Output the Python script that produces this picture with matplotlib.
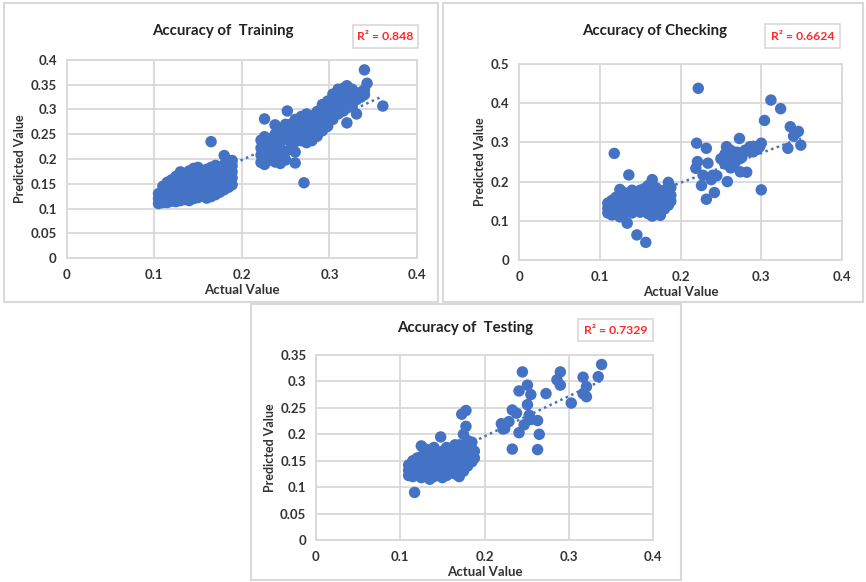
import matplotlib.pyplot as plt
import numpy as np
from matplotlib.patches import Rectangle
from matplotlib.ticker import FuncFormatter, MultipleLocator

plt.rcParams['font.family'] = ['Lato', 'DejaVu Sans']

# (actual, [predicted, ...]) grouped by actual value
training = [
    (0.105, [0.110, 0.120, 0.130]),
    (0.110, [0.112, 0.124, 0.135, 0.145]),
    (0.115, [0.112, 0.123, 0.133, 0.143, 0.153]),
    (0.120, [0.115, 0.128, 0.138, 0.148, 0.158]),
    (0.125, [0.114, 0.125, 0.135, 0.145, 0.155, 0.165]),
    (0.130, [0.116, 0.130, 0.142, 0.152, 0.162, 0.174]),
    (0.135, [0.118, 0.132, 0.144, 0.156, 0.167]),
    (0.140, [0.116, 0.128, 0.140, 0.152, 0.164, 0.176]),
    (0.145, [0.120, 0.134, 0.146, 0.158, 0.170, 0.181]),
    (0.150, [0.122, 0.137, 0.149, 0.161, 0.173, 0.183]),
    (0.155, [0.126, 0.140, 0.152, 0.164, 0.177]),
    (0.160, [0.121, 0.132, 0.144, 0.156, 0.168, 0.179]),
    (0.165, [0.124, 0.137, 0.149, 0.161, 0.173, 0.183, 0.235]),
    (0.170, [0.128, 0.142, 0.154, 0.166, 0.178, 0.187]),
    (0.175, [0.133, 0.147, 0.159, 0.171, 0.184]),
    (0.180, [0.138, 0.152, 0.164, 0.176, 0.189, 0.207]),
    (0.185, [0.143, 0.157, 0.169, 0.181, 0.194]),
    (0.189, [0.148, 0.162, 0.174, 0.186, 0.197]),
    (0.222, [0.193, 0.208, 0.222, 0.238]),
    (0.226, [0.189, 0.215, 0.245, 0.281]),
    (0.232, [0.198, 0.212, 0.225, 0.240]),
    (0.238, [0.194, 0.210, 0.225, 0.250, 0.269]),
    (0.244, [0.191, 0.205, 0.220, 0.235, 0.255]),
    (0.250, [0.198, 0.215, 0.240, 0.255, 0.270]),
    (0.252, [0.297]),
    (0.256, [0.223, 0.240, 0.255, 0.270]),
    (0.261, [0.192, 0.214, 0.235, 0.250, 0.265, 0.280]),
    (0.268, [0.237, 0.255, 0.270, 0.286]),
    (0.271, [0.152]),
    (0.274, [0.233, 0.250, 0.265, 0.280, 0.291]),
    (0.280, [0.237, 0.255, 0.270, 0.287]),
    (0.286, [0.246, 0.265, 0.280, 0.296]),
    (0.292, [0.257, 0.275, 0.290, 0.310]),
    (0.298, [0.266, 0.285, 0.300, 0.317]),
    (0.304, [0.280, 0.300, 0.315, 0.331]),
    (0.310, [0.291, 0.310, 0.325, 0.341]),
    (0.316, [0.297, 0.315, 0.330, 0.343]),
    (0.320, [0.273, 0.303, 0.320, 0.335, 0.348]),
    (0.326, [0.308, 0.325, 0.341]),
    (0.331, [0.291, 0.320]),
    (0.336, [0.325, 0.335]),
    (0.340, [0.330, 0.340, 0.380]),
    (0.343, [0.353]),
    (0.361, [0.307]),
]

checking = [
    (0.110, [0.120, 0.132, 0.145]),
    (0.115, [0.115, 0.128, 0.140, 0.152]),
    (0.118, [0.272]),
    (0.120, [0.122, 0.135, 0.148, 0.160]),
    (0.125, [0.110, 0.125, 0.140, 0.155, 0.168, 0.180]),
    (0.130, [0.118, 0.132, 0.146, 0.160, 0.172]),
    (0.134, [0.094]),
    (0.135, [0.125, 0.140, 0.155, 0.168]),
    (0.136, [0.217]),
    (0.140, [0.120, 0.135, 0.150, 0.165, 0.178]),
    (0.145, [0.128, 0.142, 0.156, 0.170]),
    (0.146, [0.064]),
    (0.150, [0.122, 0.136, 0.150, 0.164, 0.178]),
    (0.155, [0.125, 0.140, 0.155, 0.170, 0.182]),
    (0.157, [0.045]),
    (0.160, [0.118, 0.132, 0.146, 0.160, 0.175, 0.190]),
    (0.165, [0.112, 0.128, 0.144, 0.160, 0.176, 0.205]),
    (0.170, [0.120, 0.136, 0.152, 0.168, 0.184]),
    (0.175, [0.114, 0.128, 0.144, 0.160, 0.176]),
    (0.180, [0.130, 0.146, 0.162, 0.178]),
    (0.185, [0.140, 0.155, 0.170, 0.198]),
    (0.188, [0.150, 0.165, 0.185]),
    (0.219, [0.234]),
    (0.220, [0.298]),
    (0.221, [0.251]),
    (0.222, [0.438]),
    (0.226, [0.190]),
    (0.228, [0.216]),
    (0.232, [0.155, 0.285]),
    (0.234, [0.247]),
    (0.238, [0.205]),
    (0.240, [0.216]),
    (0.242, [0.172]),
    (0.245, [0.215]),
    (0.250, [0.258]),
    (0.255, [0.245, 0.270]),
    (0.257, [0.289]),
    (0.258, [0.200]),
    (0.260, [0.255]),
    (0.262, [0.235, 0.280]),
    (0.265, [0.245, 0.265]),
    (0.268, [0.250]),
    (0.270, [0.275]),
    (0.273, [0.310]),
    (0.274, [0.225, 0.259]),
    (0.276, [0.262]),
    (0.280, [0.280]),
    (0.282, [0.224]),
    (0.285, [0.278]),
    (0.286, [0.289]),
    (0.290, [0.276, 0.290]),
    (0.295, [0.282]),
    (0.298, [0.289]),
    (0.300, [0.179, 0.298]),
    (0.304, [0.356]),
    (0.312, [0.408]),
    (0.324, [0.386]),
    (0.333, [0.285]),
    (0.336, [0.340]),
    (0.340, [0.316]),
    (0.346, [0.328]),
    (0.349, [0.293]),
]

testing = [
    (0.110, [0.122, 0.132, 0.142]),
    (0.115, [0.120, 0.130, 0.140, 0.150]),
    (0.117, [0.090]),
    (0.120, [0.125, 0.135, 0.145, 0.155]),
    (0.125, [0.118, 0.128, 0.138, 0.148, 0.158, 0.178]),
    (0.130, [0.122, 0.132, 0.142, 0.152, 0.162, 0.172]),
    (0.135, [0.115, 0.125, 0.135, 0.145, 0.155, 0.168]),
    (0.140, [0.120, 0.130, 0.140, 0.150, 0.160, 0.175]),
    (0.145, [0.125, 0.135, 0.145, 0.155, 0.165]),
    (0.148, [0.195]),
    (0.150, [0.118, 0.128, 0.138, 0.148, 0.158, 0.168]),
    (0.155, [0.122, 0.132, 0.142, 0.152, 0.162, 0.175]),
    (0.160, [0.128, 0.138, 0.148, 0.158, 0.170]),
    (0.165, [0.125, 0.135, 0.145, 0.155, 0.165, 0.180]),
    (0.170, [0.120, 0.132, 0.144, 0.156, 0.168, 0.180]),
    (0.173, [0.238]),
    (0.175, [0.130, 0.142, 0.154, 0.166, 0.178, 0.200]),
    (0.178, [0.215, 0.245]),
    (0.180, [0.140, 0.152, 0.164, 0.176, 0.188]),
    (0.185, [0.148, 0.160, 0.172, 0.185]),
    (0.188, [0.155, 0.168]),
    (0.220, [0.220]),
    (0.222, [0.210]),
    (0.224, [0.211]),
    (0.229, [0.224]),
    (0.233, [0.172, 0.246]),
    (0.238, [0.240]),
    (0.241, [0.203, 0.282]),
    (0.245, [0.318]),
    (0.247, [0.218]),
    (0.251, [0.256, 0.293]),
    (0.253, [0.236]),
    (0.255, [0.228, 0.275]),
    (0.263, [0.171, 0.226]),
    (0.265, [0.200]),
    (0.273, [0.277]),
    (0.286, [0.303]),
    (0.290, [0.293, 0.318]),
    (0.303, [0.259]),
    (0.317, [0.277, 0.308]),
    (0.321, [0.271, 0.290]),
    (0.335, [0.309]),
    (0.339, [0.332]),
]

titles = ['Accuracy of  Training', 'Accuracy of Checking', 'Accuracy of  Testing']
r2_values = ['0.848', '0.6624', '0.7329']
# linear trendlines (slope, intercept)
trend_slopes = [0.80, 0.76, 0.76]
trend_intercepts = [0.038, 0.045, 0.044]
y_limits = [(0.4, 0.05), (0.5, 0.1), (0.35, 0.05)]

W, H = 866, 582
BLUE = '#4472C4'
GRID = '#d9d9d9'
TEXT = '#333333'


def fx(x):
    return x / W


def fy(y):
    return 1 - y / H


def flatten(cols):
    xs, ys = [], []
    for x, preds in cols:
        for p in preds:
            xs.append(x)
            ys.append(p)
    return np.array(xs), np.array(ys)


# pixel layout: panel frame, plot area, title centre, R2 box
layout = [
    dict(frame=(4, 3, 438, 302), area=(66.5, 60, 417, 258), title=(223, 31), box=(353, 25, 418, 48)),
    dict(frame=(443, 3, 863, 302), area=(519, 64, 842, 260), title=(655, 31), box=(765, 24, 840, 48)),
    dict(frame=(251, 304, 681, 580), area=(316, 355, 653, 540), title=(465, 328), box=(578, 319, 653, 341)),
]

fig = plt.figure(figsize=(W / 100, H / 100), dpi=100)

for i, data in enumerate([training, checking, testing]):
    lay = layout[i]
    ymax, ystep = y_limits[i]
    x0, y0, x1, y1 = lay['frame']
    fig.add_artist(Rectangle((fx(x0), fy(y1)), (x1 - x0) / W, (y1 - y0) / H,
                             transform=fig.transFigure, fill=False,
                             edgecolor=GRID, linewidth=1.5))

    l, t, r, b = lay['area']
    ax = fig.add_axes([fx(l), fy(b), (r - l) / W, (b - t) / H])
    actual, predicted = flatten(data)

    # trendline across the range of the data, behind the markers
    xs = np.array([actual.min(), actual.max()])
    ax.plot(xs, trend_slopes[i] * xs + trend_intercepts[i], color=BLUE,
            linestyle=(0, (1, 1.4)), linewidth=1.8, zorder=2)
    ax.scatter(actual, predicted, s=68, color=BLUE, edgecolors='none', zorder=3)

    ax.set_xlim(0, 0.4)
    ax.set_ylim(0, ymax)
    ax.xaxis.set_major_locator(MultipleLocator(0.1))
    ax.yaxis.set_major_locator(MultipleLocator(ystep))
    fmt = FuncFormatter(lambda v, _: f'{round(v, 3):g}')
    ax.xaxis.set_major_formatter(fmt)
    ax.yaxis.set_major_formatter(fmt)
    ax.grid(True, color=GRID, linewidth=1.3, zorder=0)
    ax.set_axisbelow(True)
    for sp in ax.spines.values():
        sp.set_color(GRID)
        sp.set_linewidth(1.3)
    ax.tick_params(length=0, labelsize=9.5, labelcolor=TEXT)
    ax.tick_params(axis='x', pad=8)
    ax.tick_params(axis='y', pad=7)
    for lbl in ax.get_xticklabels() + ax.get_yticklabels():
        lbl.set_fontweight('bold')
    ax.set_xlabel('Actual Value', fontsize=9.5, fontweight='bold', color=TEXT, labelpad=2)
    ax.set_ylabel('Predicted Value', fontsize=9, fontweight='bold', color=TEXT, labelpad=3)

    tx, ty = lay['title']
    fig.text(fx(tx), fy(ty), titles[i], ha='center', va='center', fontsize=10.8,
             fontweight='bold', color='#222222')

    bx0, by0, bx1, by1 = lay['box']
    fig.add_artist(Rectangle((fx(bx0), fy(by1)), (bx1 - bx0) / W, (by1 - by0) / H,
                             transform=fig.transFigure, facecolor='white',
                             edgecolor=GRID, linewidth=1.2))
    fig.text(fx((bx0 + bx1) / 2), fy((by0 + by1) / 2), f'R² = {r2_values[i]}',
             ha='center', va='center', fontsize=8.8, fontweight='bold',
             color='#ff2a2a')

fig.savefig('out.png', dpi=100)
